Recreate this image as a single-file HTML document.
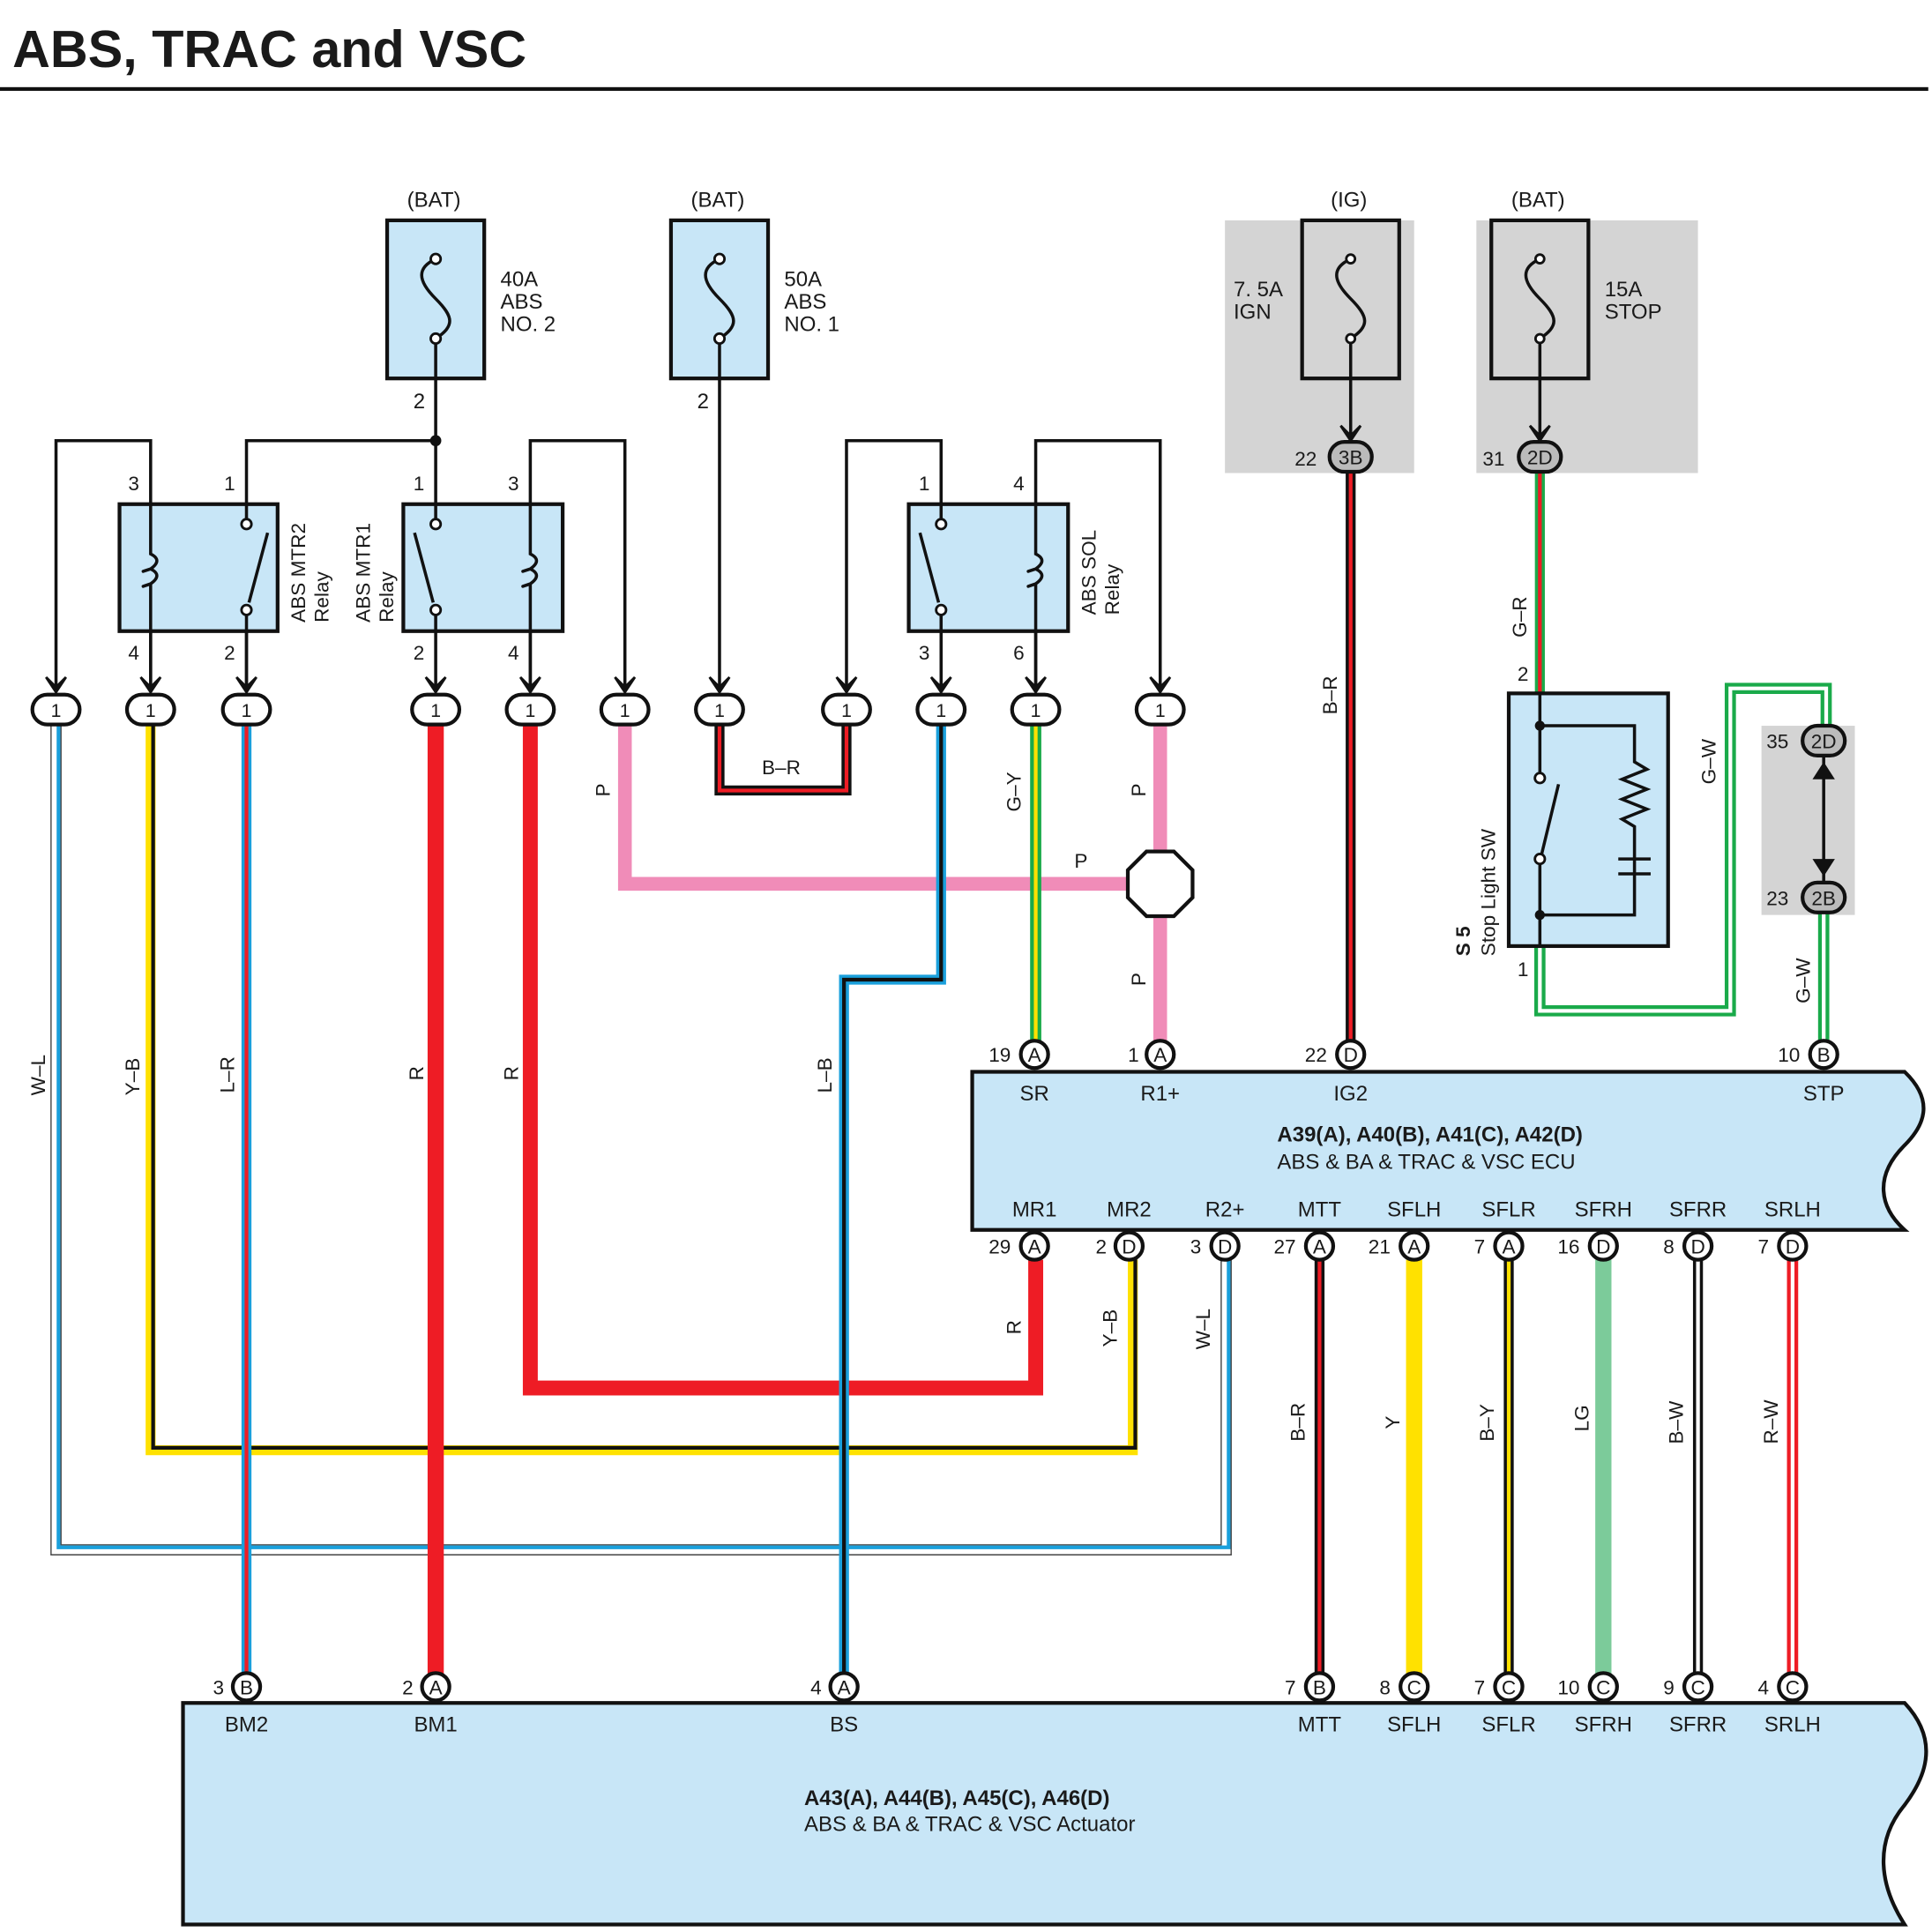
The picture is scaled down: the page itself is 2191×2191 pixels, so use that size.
<!DOCTYPE html>
<html><head><meta charset="utf-8"><style>
html,body{margin:0;padding:0;background:#fff}
svg{display:block}
text{font-family:"Liberation Sans",Arial,sans-serif;fill:#1a1a1a}
</style></head><body>
<svg width="2191" height="2191" viewBox="0 0 1552 1552" xmlns="http://www.w3.org/2000/svg">
<defs>
<g id="arr"><path d="M-8,-14 L0,-2 L8,-14 L0,-6 Z" fill="#111" stroke="#111" stroke-width="2"/></g>
<path id="wWL" d="M45,580 V1245 H985 V1012"/>
<path id="wYB" d="M121,580 V1165 H910 V1012"/>
<path id="wLR" d="M198,580 V1345"/>
<path id="wR1" d="M350,580 V1345"/>
<path id="wR2" d="M426,580 V1115 H832 V1012"/>
<path id="wP1" d="M502,580 V710 H908"/>
<path id="wBR1" d="M578,580 V635 H680 V580"/>
<path id="wLB" d="M756,580 V787 H678 V1345"/>
<path id="wGY" d="M832,580 V836"/>
<path id="wP2" d="M932,580 V836"/>
<path id="wBR2" d="M1085,380 V836"/>
<path id="wGR" d="M1237,380 V557"/>
<path id="wGW1" d="M1237,760 V812 H1390 V553 H1467 V583"/>
<path id="wGW2" d="M1465,733 V836"/>
<path id="b1" d="M1060,1012 V1345"/>
<path id="b2" d="M1136,1012 V1345"/>
<path id="b3" d="M1212,1012 V1345"/>
<path id="b4" d="M1288,1012 V1345"/>
<path id="b5" d="M1364,1012 V1345"/>
<path id="b6" d="M1440,1012 V1345"/>
</defs>

<text x="10" y="54" font-size="42" font-weight="bold">ABS, TRAC and VSC</text>
<rect x="0" y="70" width="1549" height="3" fill="#111"/>

<!-- gray backgrounds -->
<rect x="984" y="177" width="152" height="203" fill="#d4d4d4"/>
<rect x="1186" y="177" width="178" height="203" fill="#d4d4d4"/>
<rect x="1415" y="583" width="75" height="152" fill="#d4d4d4"/>

<!-- wires -->
<g fill="none" stroke-linejoin="miter">
<use href="#wWL" stroke="#444" stroke-width="9"/><use href="#wWL" stroke="#fff" stroke-width="7"/><use href="#wWL" stroke="#1aa0dc" stroke-width="3" transform="translate(2,-2)"/>
<use href="#wYB" stroke="#ffe100" stroke-width="8"/><use href="#wYB" stroke="#111" stroke-width="3" transform="translate(2,-2)"/>
<use href="#wLR" stroke="#1aa0dc" stroke-width="8"/><use href="#wLR" stroke="#ee1c25" stroke-width="3"/>
<use href="#wR1" stroke="#ee1c25" stroke-width="13"/>
<use href="#wR2" stroke="#ee1c25" stroke-width="12"/>
<use href="#wP1" stroke="#f08cb8" stroke-width="11"/>
<use href="#wBR1" stroke="#111" stroke-width="8"/><use href="#wBR1" stroke="#ee1c25" stroke-width="3"/>
<use href="#wLB" stroke="#1aa0dc" stroke-width="8"/><use href="#wLB" stroke="#111" stroke-width="3"/>
<use href="#wGY" stroke="#1aaa4a" stroke-width="9"/><use href="#wGY" stroke="#ffe100" stroke-width="3"/>
<use href="#wP2" stroke="#f08cb8" stroke-width="11"/>
<use href="#wBR2" stroke="#111" stroke-width="8"/><use href="#wBR2" stroke="#ee1c25" stroke-width="3"/>
<use href="#wGR" stroke="#1aaa4a" stroke-width="8"/><use href="#wGR" stroke="#ee1c25" stroke-width="3"/>
<use href="#wGW1" stroke="#1aaa4a" stroke-width="9"/><use href="#wGW1" stroke="#fff" stroke-width="3"/>
<use href="#wGW2" stroke="#1aaa4a" stroke-width="9"/><use href="#wGW2" stroke="#fff" stroke-width="3"/>
<use href="#b1" stroke="#111" stroke-width="8"/><use href="#b1" stroke="#ee1c25" stroke-width="3"/>
<use href="#b2" stroke="#ffe100" stroke-width="13"/>
<use href="#b3" stroke="#111" stroke-width="8"/><use href="#b3" stroke="#ffe100" stroke-width="3"/>
<use href="#b4" stroke="#7ccb9a" stroke-width="13"/>
<use href="#b5" stroke="#111" stroke-width="8"/><use href="#b5" stroke="#fff" stroke-width="3"/>
<use href="#b6" stroke="#ee1c25" stroke-width="9"/><use href="#b6" stroke="#fff" stroke-width="3"/>
</g>

<!-- black control wiring -->
<g fill="none" stroke="#111" stroke-width="2.5">
<path d="M350,304 V505"/>
<path d="M578,304 V556"/>
<path d="M45,556 V354 H121 V556"/>
<path d="M198,556 V354 H350"/>
<path d="M426,556 V354 H502 V556"/>
<path d="M350,505 V556"/>
<path d="M680,556 V354 H756 V556"/>
<path d="M832,556 V354 H932 V556"/>
<path d="M1085,304 V352"/>
<path d="M1237,304 V352"/>
<path d="M1465,608 V708"/>
</g>
<circle cx="350" cy="354" r="4.5" fill="#111"/>
<path d="M1465,612 l-9,14 h18 z M1465,704 l-9,-14 h18 z" fill="#111"/>

<!-- fuses -->
<g stroke="#111" stroke-width="3" fill="#c8e6f7">
<rect x="311" y="177" width="78" height="127"/>
<rect x="539" y="177" width="78" height="127"/>
<rect x="1046" y="177" width="78" height="127" fill="#d4d4d4"/>
<rect x="1198" y="177" width="78" height="127" fill="#d4d4d4"/>
</g>
<g fill="none" stroke="#111" stroke-width="2.5">
<path d="M350,208 C335,215 335,225 350,240 C365,255 365,262 350,272"/>
<path d="M578,208 C563,215 563,225 578,240 C593,255 593,262 578,272"/>
<path d="M1085,208 C1070,215 1070,225 1085,240 C1100,255 1100,262 1085,272"/>
<path d="M1237,208 C1222,215 1222,225 1237,240 C1252,255 1252,262 1237,272"/>
<path d="M350,272 V304 M578,272 V304 M1085,272 V304 M1237,272 V304"/>
</g>
<g fill="#fff" stroke="#111" stroke-width="2">
<circle cx="350" cy="208" r="4"/><circle cx="350" cy="272" r="4"/>
<circle cx="578" cy="208" r="4"/><circle cx="578" cy="272" r="4"/>
<circle cx="1085" cy="208" r="3.5"/><circle cx="1085" cy="272" r="3.5"/>
<circle cx="1237" cy="208" r="3.5"/><circle cx="1237" cy="272" r="3.5"/>
</g>
<g font-size="17">
<text x="327" y="166">(BAT)</text><text x="555" y="166">(BAT)</text>
<text x="1069" y="166">(IG)</text><text x="1214" y="166">(BAT)</text>
<text x="402" y="230">40A</text><text x="402" y="248">ABS</text><text x="402" y="266">NO. 2</text>
<text x="630" y="230">50A</text><text x="630" y="248">ABS</text><text x="630" y="266">NO. 1</text>
<text x="991" y="238">7. 5A</text><text x="991" y="256">IGN</text>
<text x="1289" y="238">15A</text><text x="1289" y="256">STOP</text>
<text x="332" y="328">2</text><text x="560" y="328">2</text>
</g>
<!-- fuse outputs arrows + connectors 3B,2D -->
<use href="#arr" x="1085" y="356"/><use href="#arr" x="1237" y="356"/>
<g stroke="#111" stroke-width="3" fill="#bbb">
<rect x="1068" y="355" width="34" height="24" rx="12"/>
<rect x="1220" y="355" width="34" height="24" rx="12"/>
<rect x="1448" y="583" width="34" height="24" rx="12"/>
<rect x="1448" y="709" width="34" height="24" rx="12"/>
</g>
<g font-size="16">
<text x="1085" y="373" text-anchor="middle">3B</text><text x="1237" y="373" text-anchor="middle">2D</text>
<text x="1465" y="601" text-anchor="middle">2D</text><text x="1465" y="727" text-anchor="middle">2B</text>
<text x="1040" y="374">22</text><text x="1191" y="374">31</text>
<text x="1419" y="601">35</text><text x="1419" y="727">23</text>
</g>

<!-- relays -->
<g stroke="#111" stroke-width="3" fill="#c8e6f7">
<rect x="96" y="405" width="127" height="102"/>
<rect x="324" y="405" width="128" height="102"/>
<rect x="730" y="405" width="128" height="102"/>
</g>
<g fill="none" stroke="#111" stroke-width="2.5">
<!-- coils -->
<path d="M121,405 V445 q10,5 0,12 q-12,4 0,0 q10,5 0,12 q-12,4 0,0 V507"/>
<path d="M426,405 V445 q10,5 0,12 q-12,4 0,0 q10,5 0,12 q-12,4 0,0 V507"/>
<path d="M832,405 V445 q10,5 0,12 q-12,4 0,0 q10,5 0,12 q-12,4 0,0 V507"/>
<!-- switches -->
<path d="M198,405 V418 M198,494 V507 M215,428 L200,484"/>
<path d="M350,405 V418 M350,494 V507 M333,428 L348,484"/>
<path d="M756,405 V418 M756,494 V507 M739,428 L754,484"/>
<path d="M121,507 V556 M198,507 V556 M426,507 V556 M756,507 V556 M832,507 V556"/>
</g>
<g fill="#fff" stroke="#111" stroke-width="2">
<circle cx="198" cy="421" r="4"/><circle cx="198" cy="490" r="4"/>
<circle cx="350" cy="421" r="4"/><circle cx="350" cy="490" r="4"/>
<circle cx="756" cy="421" r="4"/><circle cx="756" cy="490" r="4"/>
</g>
<g font-size="16">
<text x="103" y="394">3</text><text x="180" y="394">1</text>
<text x="332" y="394">1</text><text x="408" y="394">3</text>
<text x="738" y="394">1</text><text x="814" y="394">4</text>
<text x="103" y="530">4</text><text x="180" y="530">2</text>
<text x="332" y="530">2</text><text x="408" y="530">4</text>
<text x="738" y="530">3</text><text x="814" y="530">6</text>
<text x="245" y="500" transform="rotate(-90 245 500)">ABS MTR2</text>
<text x="264" y="500" transform="rotate(-90 264 500)">Relay</text>
<text x="297" y="500" transform="rotate(-90 297 500)">ABS MTR1</text>
<text x="316" y="500" transform="rotate(-90 316 500)">Relay</text>
<text x="880" y="494" transform="rotate(-90 880 494)">ABS SOL</text>
<text x="899" y="494" transform="rotate(-90 899 494)">Relay</text>
</g>

<!-- connectors row -->
<g id="cr">
<use href="#arr" x="45" y="558"/><use href="#arr" x="121" y="558"/><use href="#arr" x="198" y="558"/>
<use href="#arr" x="350" y="558"/><use href="#arr" x="426" y="558"/><use href="#arr" x="502" y="558"/>
<use href="#arr" x="578" y="558"/><use href="#arr" x="680" y="558"/><use href="#arr" x="756" y="558"/>
<use href="#arr" x="832" y="558"/><use href="#arr" x="932" y="558"/>
</g>
<g stroke="#111" stroke-width="3" fill="#fff">
<rect x="26" y="558" width="38" height="24" rx="12"/><rect x="102" y="558" width="38" height="24" rx="12"/>
<rect x="179" y="558" width="38" height="24" rx="12"/><rect x="331" y="558" width="38" height="24" rx="12"/>
<rect x="407" y="558" width="38" height="24" rx="12"/><rect x="483" y="558" width="38" height="24" rx="12"/>
<rect x="559" y="558" width="38" height="24" rx="12"/><rect x="661" y="558" width="38" height="24" rx="12"/>
<rect x="737" y="558" width="38" height="24" rx="12"/><rect x="813" y="558" width="38" height="24" rx="12"/>
<rect x="913" y="558" width="38" height="24" rx="12"/>
</g>
<g font-size="15" text-anchor="middle">
<text x="45" y="576">1</text><text x="121" y="576">1</text><text x="198" y="576">1</text>
<text x="350" y="576">1</text><text x="426" y="576">1</text><text x="502" y="576">1</text>
<text x="578" y="576">1</text><text x="680" y="576">1</text><text x="756" y="576">1</text>
<text x="832" y="576">1</text><text x="932" y="576">1</text>
</g>

<!-- octagon splice -->
<polygon points="921,684 943,684 958,699 958,721 943,736 921,736 906,721 906,699" fill="#fff" stroke="#111" stroke-width="3"/>

<!-- stop light switch -->
<rect x="1212" y="557" width="128" height="203" fill="#c8e6f7" stroke="#111" stroke-width="3"/>
<g fill="none" stroke="#111" stroke-width="2.5">
<path d="M1237,557 V625 M1237,690 V760"/>
<path d="M1252,630 L1238,688"/>
<path d="M1237,583 H1313 V612 l10,6 -20,8 20,8 -20,8 20,8 -20,8 10,6 V680 M1313,680 V735 H1237"/>
<path d="M1300,690 H1326 M1300,702 H1326"/>
</g>
<g fill="#111"><circle cx="1237" cy="583" r="4"/><circle cx="1237" cy="735" r="4"/></g>
<g fill="#fff" stroke="#111" stroke-width="2"><circle cx="1237" cy="625" r="4"/><circle cx="1237" cy="690" r="4"/></g>
<g font-size="16">
<text x="1219" y="547">2</text><text x="1219" y="784">1</text>
<text x="1201" y="768" transform="rotate(-90 1201 768)">Stop Light SW</text>
<text x="1181" y="768" font-weight="bold" transform="rotate(-90 1181 768)">S 5</text>
</g>

<!-- ECU -->
<path d="M781,861 H1530 C1555,885 1545,905 1530,920 C1505,945 1510,970 1530,988 H781 Z" fill="#c8e6f7" stroke="#111" stroke-width="3"/>
<text x="1026" y="917" font-size="17" font-weight="bold">A39(A), A40(B), A41(C), A42(D)</text>
<text x="1026" y="939" font-size="17">ABS &amp; BA &amp; TRAC &amp; VSC ECU</text>

<!-- Actuator -->
<path d="M147,1368 H1530 C1560,1400 1545,1430 1530,1450 C1505,1480 1510,1515 1530,1546 H147 Z" fill="#c8e6f7" stroke="#111" stroke-width="3"/>
<text x="646" y="1450" font-size="17" font-weight="bold">A43(A), A44(B), A45(C), A46(D)</text>
<text x="646" y="1471" font-size="17">ABS &amp; BA &amp; TRAC &amp; VSC Actuator</text>

<!-- pin circles -->
<g stroke="#111" stroke-width="3" fill="#fff">
<circle cx="831" cy="847" r="11"/><circle cx="932" cy="847" r="11"/><circle cx="1085" cy="847" r="11"/><circle cx="1465" cy="847" r="11"/>
<circle cx="831" cy="1001" r="11"/><circle cx="907" cy="1001" r="11"/><circle cx="984" cy="1001" r="11"/><circle cx="1060" cy="1001" r="11"/>
<circle cx="1136" cy="1001" r="11"/><circle cx="1212" cy="1001" r="11"/><circle cx="1288" cy="1001" r="11"/><circle cx="1364" cy="1001" r="11"/><circle cx="1440" cy="1001" r="11"/>
<circle cx="198" cy="1355" r="11"/><circle cx="350" cy="1355" r="11"/><circle cx="678" cy="1355" r="11"/>
<circle cx="1060" cy="1355" r="11"/><circle cx="1136" cy="1355" r="11"/><circle cx="1212" cy="1355" r="11"/><circle cx="1288" cy="1355" r="11"/><circle cx="1364" cy="1355" r="11"/><circle cx="1440" cy="1355" r="11"/>
</g>
<g font-size="16" text-anchor="middle">
<text x="831" y="853">A</text><text x="932" y="853">A</text><text x="1085" y="853">D</text><text x="1465" y="853">B</text>
<text x="831" y="1007">A</text><text x="907" y="1007">D</text><text x="984" y="1007">D</text><text x="1060" y="1007">A</text>
<text x="1136" y="1007">A</text><text x="1212" y="1007">A</text><text x="1288" y="1007">D</text><text x="1364" y="1007">D</text><text x="1440" y="1007">D</text>
<text x="198" y="1361">B</text><text x="350" y="1361">A</text><text x="678" y="1361">A</text>
<text x="1060" y="1361">B</text><text x="1136" y="1361">C</text><text x="1212" y="1361">C</text><text x="1288" y="1361">C</text><text x="1364" y="1361">C</text><text x="1440" y="1361">C</text>
</g>
<g font-size="16" text-anchor="end">
<text x="812" y="853">19</text><text x="915" y="853">1</text><text x="1066" y="853">22</text><text x="1446" y="853">10</text>
<text x="812" y="1007">29</text><text x="889" y="1007">2</text><text x="965" y="1007">3</text><text x="1041" y="1007">27</text>
<text x="1117" y="1007">21</text><text x="1193" y="1007">7</text><text x="1269" y="1007">16</text><text x="1345" y="1007">8</text><text x="1421" y="1007">7</text>
<text x="180" y="1361">3</text><text x="332" y="1361">2</text><text x="660" y="1361">4</text>
<text x="1041" y="1361">7</text><text x="1117" y="1361">8</text><text x="1193" y="1361">7</text><text x="1269" y="1361">10</text><text x="1345" y="1361">9</text><text x="1421" y="1361">4</text>
</g>
<g font-size="17" text-anchor="middle">
<text x="831" y="884">SR</text><text x="932" y="884">R1+</text><text x="1085" y="884">IG2</text><text x="1465" y="884">STP</text>
<text x="831" y="977">MR1</text><text x="907" y="977">MR2</text><text x="984" y="977">R2+</text><text x="1060" y="977">MTT</text>
<text x="1136" y="977">SFLH</text><text x="1212" y="977">SFLR</text><text x="1288" y="977">SFRH</text><text x="1364" y="977">SFRR</text><text x="1440" y="977">SRLH</text>
<text x="198" y="1391">BM2</text><text x="350" y="1391">BM1</text><text x="678" y="1391">BS</text>
<text x="1060" y="1391">MTT</text><text x="1136" y="1391">SFLH</text><text x="1212" y="1391">SFLR</text><text x="1288" y="1391">SFRH</text><text x="1364" y="1391">SFRR</text><text x="1440" y="1391">SRLH</text>
</g>

<!-- wire labels -->
<g font-size="16">
<text x="36" y="880" transform="rotate(-90 36 880)">W–L</text>
<text x="112" y="880" transform="rotate(-90 112 880)">Y–B</text>
<text x="188" y="878" transform="rotate(-90 188 878)">L–R</text>
<text x="340" y="868" transform="rotate(-90 340 868)">R</text>
<text x="416" y="868" transform="rotate(-90 416 868)">R</text>
<text x="490" y="640" transform="rotate(-90 490 640)">P</text>
<text x="612" y="622">B–R</text>
<text x="668" y="878" transform="rotate(-90 668 878)">L–B</text>
<text x="820" y="652" transform="rotate(-90 820 652)">G–Y</text>
<text x="920" y="640" transform="rotate(-90 920 640)">P</text>
<text x="863" y="697">P</text>
<text x="920" y="792" transform="rotate(-90 920 792)">P</text>
<text x="1074" y="574" transform="rotate(-90 1074 574)">B–R</text>
<text x="1226" y="512" transform="rotate(-90 1226 512)">G–R</text>
<text x="1378" y="630" transform="rotate(-90 1378 630)">G–W</text>
<text x="1454" y="806" transform="rotate(-90 1454 806)">G–W</text>
<text x="820" y="1072" transform="rotate(-90 820 1072)">R</text>
<text x="897" y="1082" transform="rotate(-90 897 1082)">Y–B</text>
<text x="972" y="1084" transform="rotate(-90 972 1084)">W–L</text>
<text x="1048" y="1158" transform="rotate(-90 1048 1158)">B–R</text>
<text x="1124" y="1148" transform="rotate(-90 1124 1148)">Y</text>
<text x="1200" y="1158" transform="rotate(-90 1200 1158)">B–Y</text>
<text x="1276" y="1150" transform="rotate(-90 1276 1150)">LG</text>
<text x="1352" y="1160" transform="rotate(-90 1352 1160)">B–W</text>
<text x="1428" y="1160" transform="rotate(-90 1428 1160)">R–W</text>
</g>
</svg>
</body></html>
